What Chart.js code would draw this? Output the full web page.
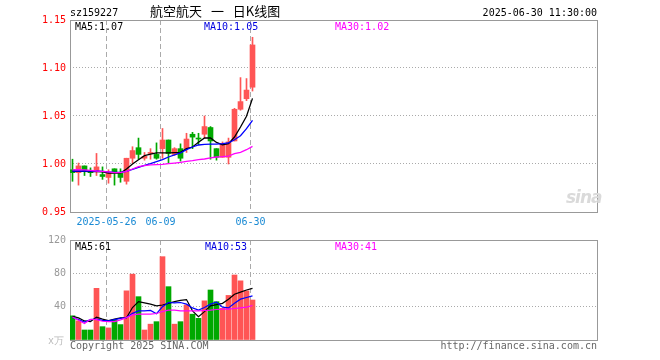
<!DOCTYPE html>
<html>
<head>
<meta charset="utf-8">
<script src="https://cdn.jsdelivr.net/npm/chart.js@4/dist/chart.umd.min.js"></script>
<style>
  body { margin: 0; width: 660px; height: 360px; background: #fff; position: relative; overflow: hidden; }
  canvas { position: absolute; left: 0; }
  #price { top: 0; }
  #vol { top: 230px; }
  .t { position: absolute; font: 10px "DejaVu Sans Mono", monospace; line-height: 10px; white-space: pre; color: #000; }
</style>
</head>
<body>
<canvas id="price" width="660" height="232"></canvas>
<canvas id="vol" width="660" height="130"></canvas>

<div class="t" style="left:70px;top:8px">sz159227</div>
<div class="t" style="left:150px;top:2px;font:13px 'Noto Sans CJK SC';line-height:18px;word-spacing:6px">航空航天 一 日K线图</div>
<div class="t" style="right:63px;top:8px">2025-06-30 11:30:00</div>
<div class="t" style="left:75px;top:21.5px">MA5:1.07</div>
<div class="t" style="left:204px;top:21.5px;color:#0000e0">MA10:1.05</div>
<div class="t" style="left:335px;top:21.5px;color:#ff00ff">MA30:1.02</div>
<div class="t" style="left:566px;top:188px;font:italic bold 17px 'DejaVu Sans';line-height:18px;color:#dadada;letter-spacing:-1px">sina</div>

<div class="t" style="left:75px;top:242px">MA5:61</div>
<div class="t" style="left:205px;top:242px;color:#0000e0">MA10:53</div>
<div class="t" style="left:335px;top:242px;color:#ff00ff">MA30:41</div>
<div class="t" style="left:48px;top:336px;color:#bbb">x万</div>
<div class="t" style="left:70px;top:340.5px;color:#666">Copyright 2025 SINA.COM</div>
<div class="t" style="right:63px;top:340.5px;color:#666">http://finance.sina.com.cn</div>

<script>
// dados
const dates = ['05-16','05-19','05-20','05-21','05-22','05-23','05-26','05-27','05-28','05-29','05-30',
  '06-03','06-04','06-05','06-06','06-09','06-10','06-11','06-12','06-13','06-16','06-17','06-18',
  '06-19','06-20','06-23','06-24','06-25','06-26','06-27','06-30']

const open  = [0.994, 0.991, 0.998, 0.992, 0.993, 0.989, 0.986, 0.995, 0.991, 0.982, 1.006, 1.017, 1.006, 1.011, 1.010, 1.016,
  1.025, 1.010, 1.016, 1.016, 1.031, 1.027, 1.031, 1.038, 1.016, 1.007, 1.007, 1.024, 1.057, 1.068, 1.080]
const close = [0.991, 0.998, 0.993, 0.991, 0.997, 0.987, 0.991, 0.991, 0.986, 1.006, 1.014, 1.010, 1.008, 1.012, 1.006, 1.025,
  1.011, 1.016, 1.006, 1.026, 1.028, 1.026, 1.039, 1.024, 1.007, 1.021, 1.023, 1.057, 1.065, 1.077, 1.124]
const high  = [1.005, 1.001, 0.998, 0.996, 1.011, 0.997, 0.994, 0.995, 0.995, 1.006, 1.018, 1.027, 1.012, 1.016, 1.022, 1.037,
  1.025, 1.017, 1.021, 1.032, 1.033, 1.032, 1.050, 1.039, 1.016, 1.023, 1.027, 1.058, 1.090, 1.089, 1.132]
const low   = [0.982, 0.978, 0.988, 0.987, 0.988, 0.984, 0.980, 0.978, 0.981, 0.979, 1.001, 1.005, 1.004, 1.005, 1.005, 1.006,
  1.001, 1.009, 1.003, 1.012, 1.016, 1.020, 1.027, 1.005, 1.004, 1.007, 1.000, 1.024, 1.056, 1.066, 1.076]

const ma5  = [0.9924, 0.9924, 0.9924, 0.9920, 0.9920, 0.9917, 0.9906, 0.9906, 0.9906, 0.9948, 1.0000, 1.0045, 1.0087, 1.0104,
  1.0115, 1.0115, 1.0115, 1.0118, 1.0122, 1.0160, 1.0177, 1.0226, 1.0271, 1.0271, 1.0225, 1.0200, 1.0212, 1.0281, 1.0385, 1.0497, 1.0684]
const ma10 = [0.9927, 0.9927, 0.9927, 0.9927, 0.9927, 0.9924, 0.9917, 0.9913, 0.9913, 0.9924, 0.9944, 0.9965, 0.9986, 1.0003,
  1.0024, 1.0045, 1.0073, 1.0094, 1.0115, 1.0149, 1.0177, 1.0198, 1.0205, 1.0208, 1.0208, 1.0212, 1.0219, 1.0253, 1.0295, 1.0368, 1.0455]
const ma30 = [0.9938, 0.9941, 0.9938, 0.9934, 0.9927, 0.9924, 0.9917, 0.9910, 0.9910, 0.9924, 0.9948, 0.9972, 0.9983, 0.9990,
  0.9993, 0.9997, 1.0003, 1.0010, 1.0017, 1.0028, 1.0035, 1.0045, 1.0052, 1.0063, 1.0073, 1.0076, 1.0083, 1.0108, 1.0122, 1.0149, 1.0184]

const volume = [29, 23, 12, 12, 62, 16, 14.5, 24, 18.5, 59, 79, 52, 12, 19, 22, 100, 64, 19, 22, 42, 31, 26, 47, 60, 46, 38,
  53.5, 78, 71, 59, 48]
const vma5  = [28.5, 26.5, 22.9, 22.1, 27.5, 25, 23.3, 25, 26.5, 26.5, 39, 46, 44.5, 43, 41, 42, 44, 46, 47.5, 48.5, 35, 28,
  34, 41, 42.5, 44, 49, 55, 57.5, 60, 62]
const vma10 = [27, 24.5, 21.5, 24.5, 25, 23.5, 23, 24.5, 26, 27, 32, 35, 35, 35.5, 31.5, 40, 45, 44.6, 45, 43, 38.5, 36, 39,
  43, 45.5, 39.5, 38.5, 44, 49, 51, 53]
const vma30 = [27.7, 23.7, 19.7, 24.9, 24.5, 22.5, 22.1, 22.1, 24.1, 26.9, 30.2, 31.0, 31.0, 31.0, 31.8, 34.2, 35.8, 35.8,
  35.0, 35.0, 35.0, 35.0, 35.4, 35.8, 36.6, 37.0, 37.0, 37.8, 38.6, 39.4, 41.4]

// marcas do eixo X e do eixo Y
const tickIdx = [6, 15, 30]
const tickText = ['2025-05-26', '06-09', '06-30']
const priceTicks = [0.95, 1.00, 1.05, 1.10, 1.15]
const volTicks = [0, 40, 80, 120]

const RED = '#ff5555'
const GREEN = '#00a800'
const MONO = { family: 'DejaVu Sans Mono', size: 10 }

let idx = dates.map((d, i) => i)
let candleColor = idx.map(i => close[i] >= open[i] ? RED : GREEN)
let pts = arr => idx.map(i => ({ x: i, y: arr[i] }))

// moldura cinza em volta da área
const frame = {
  id: 'frame',
  beforeDatasetsDraw(chart) {
    const { ctx, chartArea: a } = chart
    ctx.save()
    ctx.strokeStyle = '#999'
    ctx.lineWidth = 1
    ctx.strokeRect(a.left + 0.5, a.top + 0.5, a.right - a.left, a.bottom - a.top)
    ctx.restore()
  }
}

function xScale(showLabels) {
  return {
    type: 'linear', min: -0.4167, max: 87.4167, offset: false,
    afterFit: s => { s.height = 20 },
    afterBuildTicks: s => { s.ticks = tickIdx.map(i => ({ value: i - 0.33 })) },
    grid: { color: '#aaa', drawTicks: false, offset: false },
    border: { display: false, dash: [5, 3] },
    ticks: { display: showLabels, color: '#1a8ad4', font: MONO, padding: 4, maxRotation: 0, autoSkip: false,
      callback: (v, k) => tickText[k] }
  }
}

function yScale(min, max, list, color, fmt) {
  return {
    min: min, max: max,
    afterFit: s => { s.width = 70 },
    afterBuildTicks: s => { s.ticks = list.map(v => ({ value: v })) },
    grid: { drawTicks: false, color: c => (c.tick && c.tick.value > min && c.tick.value < max) ? '#aaa' : 'rgba(0,0,0,0)' },
    border: { display: false, dash: [1, 2] },
    ticks: { color: color, font: MONO, padding: 4, autoSkip: false, callback: fmt }
  }
}

let maLine = (data, color, order, w) => ({
  type: 'line', data: data, borderColor: color, borderWidth: w, pointRadius: 0, order: order
})

new Chart(document.querySelector('#price'), {
  type: 'bar',
  data: {
    datasets: [
      maLine(pts(ma30), '#ff00ff', -3, 1.3),
      maLine(pts(ma10), '#0000ff', -2, 1.3),
      maLine(pts(ma5), '#000000', -1, 1.3),
      { type: 'bar', data: idx.map(i => ({ x: i, y: [open[i], close[i]] })), backgroundColor: candleColor,
        barThickness: 5, grouped: false, minBarLength: 1, order: 1 },
      { type: 'bar', data: idx.map(i => ({ x: i, y: [low[i], high[i]] })), backgroundColor: candleColor,
        barThickness: 1, grouped: false, order: 2 }
    ]
  },
  options: {
    responsive: false, animation: false, devicePixelRatio: 1,
    layout: { padding: { top: 20, right: 63, left: 0, bottom: 0 } },
    plugins: { legend: { display: false }, tooltip: { enabled: false } },
    scales: {
      x: xScale(true),
      y: yScale(0.95, 1.15, priceTicks, '#ff0000', v => v.toFixed(2))
    }
  },
  plugins: [frame]
})

new Chart(document.querySelector('#vol'), {
  type: 'bar',
  data: {
    datasets: [
      maLine(pts(vma30), '#ff00ff', -3, 1.2),
      maLine(pts(vma10), '#0000ff', -2, 1.2),
      maLine(pts(vma5), '#000000', -1, 1.2),
      { type: 'bar', data: pts(volume), backgroundColor: candleColor, barThickness: 5, grouped: false, order: 1 }
    ]
  },
  options: {
    responsive: false, animation: false, devicePixelRatio: 1,
    layout: { padding: { top: 10, right: 63, left: 0, bottom: 0 } },
    plugins: { legend: { display: false }, tooltip: { enabled: false } },
    scales: {
      x: xScale(false),
      y: yScale(0, 120, volTicks, '#999', v => v === 0 ? '' : String(v))
    }
  },
  plugins: [frame]
})
</script>
</body>
</html>
